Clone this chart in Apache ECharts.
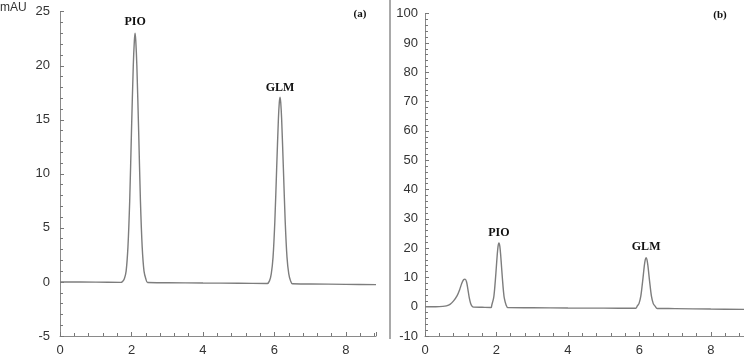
<!DOCTYPE html>
<html><head><meta charset="utf-8">
<script src="https://cdn.jsdelivr.net/npm/echarts@6/dist/echarts.min.js"></script>
<style>html,body{margin:0;padding:0;background:#fff}#c{width:744px;height:361px}</style>
</head><body><div id="c"></div>
<script>
// Chromatogram (a): [time (min), mAU]
const traceA = [
 [0,0],[1.0,-0.02],[1.7,-0.04],[1.75,0.05],[1.8,0.3],[1.85,1.0],[1.9,3.2],[1.95,7.5],[2.0,14],[2.05,20],[2.08,22.3],[2.1,23],[2.12,22.3],[2.15,20],[2.2,14],[2.25,7.5],[2.3,3.2],[2.35,1.0],[2.4,0.3],[2.45,-0.05],
 [3,-0.07],[4,-0.1],[5,-0.12],[5.8,-0.14],[5.86,0.1],[5.91,0.75],[5.96,2.3],[6.01,5.6],[6.06,10.4],[6.11,15.1],[6.135,16.6],[6.155,17.1],[6.175,16.6],[6.2,15.1],[6.25,10.4],[6.3,5.6],[6.35,2.3],[6.4,0.75],[6.45,0.1],[6.5,-0.17],
 [7,-0.19],[8,-0.22],[8.84,-0.25]
];
// Chromatogram (b): [time (min), mAU]
const traceB = [
 [0,0],[0.3,0],[0.5,0.1],[0.6,0.3],[0.7,0.8],[0.8,2.0],[0.9,3.8],[0.97,5.8],[1.03,8],[1.08,9.2],[1.12,9.4],[1.16,8.6],[1.2,6],[1.24,3],[1.28,1],[1.32,0.1],[1.36,-0.15],
 [1.6,-0.2],[1.85,-0.25],[1.87,0.6],[1.92,2.9],[1.945,5.5],[1.97,9.1],[1.995,13.2],[2.02,17.4],[2.045,20.6],[2.07,21.8],[2.095,20.6],[2.12,17.4],[2.145,13.2],[2.17,9.1],[2.195,5.5],[2.22,2.9],[2.27,0.6],[2.32,-0.3],
 [3,-0.35],[4,-0.45],[5,-0.5],[5.9,-0.55],[5.94,0.2],[5.99,1.05],[6.04,3.5],[6.09,8.4],[6.14,14],[6.165,16],[6.19,16.7],[6.215,16],[6.24,14],[6.29,8.4],[6.34,3.5],[6.39,1.05],[6.44,0.2],[6.5,-0.6],
 [7,-0.65],[8,-0.8],[8.93,-0.9]
];
// Peak labels: [time, height, name]
const peaksA = [[2.1,23,'PIO'],[6.155,17.1,'GLM']];
const peaksB = [[2.07,21.8,'PIO'],[6.19,16.7,'GLM']];
const distA = [5,3];
const distB = [4,5];
const yTicksA = {min:-5,max:25,interval:5};
const yTicksB = {min:-10,max:100,interval:10};
const xTicks = {min:0,interval:2};

const axisCol = '#8a8a8a';
const lineCol = '#7d7d7d';
const labelStyle = {color:'#333',fontFamily:'Liberation Sans, Arial, sans-serif',fontSize:13};

function xAxis(idx,max){
  return {type:'value',gridIndex:idx,min:xTicks.min,max:max,interval:xTicks.interval,
    axisLine:{show:true,onZero:false,lineStyle:{color:axisCol,width:1}},
    axisTick:{show:true,inside:true,length:4,lineStyle:{color:'#777'}},
    minorTick:{show:true,splitNumber:5,length:3,lineStyle:{color:'#777'}},
    splitLine:{show:false},
    axisLabel:Object.assign({margin:8,showMaxLabel:false},labelStyle)};
}
function yAxis(idx,t,margin){
  return {type:'value',gridIndex:idx,min:t.min,max:t.max,interval:t.interval,
    axisLine:{show:true,onZero:false,lineStyle:{color:axisCol,width:1}},
    axisTick:{show:true,inside:true,length:4,lineStyle:{color:'#777'}},
    minorTick:{show:true,splitNumber:5,length:3,lineStyle:{color:'#777'}},
    splitLine:{show:false},
    axisLabel:Object.assign({margin:margin},labelStyle)};
}
function peakMarks(peaks,dists){
  return {symbol:'circle',symbolSize:0.01,silent:true,
    data:peaks.map((p,i)=>({coord:[p[0],p[1]],value:p[2],
      label:{show:true,position:'top',distance:dists[i],formatter:p[2],
        color:'#111',fontFamily:'Liberation Serif, Times New Roman, serif',fontWeight:'bold',fontSize:12}}))};
}

const chart = echarts.init(document.getElementById('c'),null,{renderer:'canvas'});
chart.setOption({
  animation:false,
  grid:[
    {left:60,top:11.7,width:316,height:324.3},
    {left:425,top:13.7,width:319,height:322.3}
  ],
  xAxis:[xAxis(0,8.84),xAxis(1,8.93)],
  yAxis:[yAxis(0,yTicksA,10),yAxis(1,yTicksB,7)],
  series:[
    {type:'line',xAxisIndex:0,yAxisIndex:0,data:traceA,showSymbol:false,smooth:0.3,
      lineStyle:{color:lineCol,width:1.4},markPoint:peakMarks(peaksA,distA)},
    {type:'line',xAxisIndex:1,yAxisIndex:1,data:traceB,showSymbol:false,smooth:0.3,
      lineStyle:{color:lineCol,width:1.4},markPoint:peakMarks(peaksB,distB)}
  ],
  graphic:[
    {type:'text',left:0,top:2,style:{text:'mAU',fill:'#333',font:'12px "Liberation Sans", Arial, sans-serif'}},
    {type:'text',x:360,y:14,style:{text:'(a)',fill:'#111',align:'center',verticalAlign:'middle',font:'bold 11px "Liberation Serif", serif'}},
    {type:'text',x:720,y:15,style:{text:'(b)',fill:'#111',align:'center',verticalAlign:'middle',font:'bold 11px "Liberation Serif", serif'}},
    {type:'line',shape:{x1:390,y1:0,x2:390,y2:339},style:{stroke:'#555',lineWidth:1}}
  ]
});
</script></body></html>
